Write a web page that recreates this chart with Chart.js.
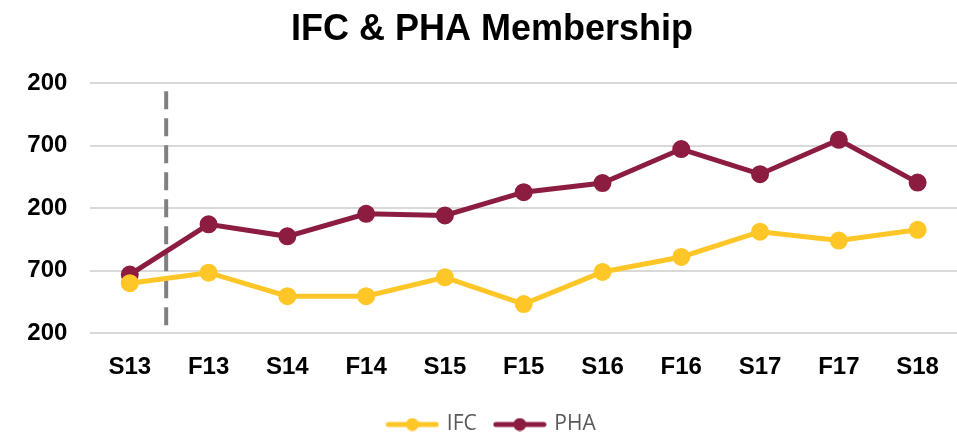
<!DOCTYPE html>
<html lang="en">
  <head>
    <meta charset="UTF-8" />
    <title>IFC & PHA Membership</title>
    <script src="https://cdn.jsdelivr.net/npm/chart.js"></script>
    <style>
      html, body { margin: 0; padding: 0; background: #fff; }
      #wrap { width: 957px; height: 435px; }
    </style>
  </head>
  <body>
    <div id="wrap"><canvas id="membership"></canvas></div>
    <script>
      const terms = ["S13", "F13", "S14", "F14", "S15", "F15", "S16", "F16", "S17", "F17", "S18"];
      const ifcMembers = [1600, 1684, 1496, 1496, 1647, 1433, 1690, 1810, 2012, 1941, 2027];
      const phaMembers = [1669, 2071, 1975, 2155, 2142, 2328, 2401, 2673, 2472, 2747, 2405];
      const yTicks = [1200, 1700, 2200, 2700, 3200];

      const GOLD = "#FFC627";
      const MAROON = "#8C1D40";

      // legend swatch: a short line with a dot in the middle
      function legendSwatch(color) {
        const c = document.createElement("canvas");
        c.width = 54;
        c.height = 14;
        const g = c.getContext("2d");
        g.strokeStyle = color;
        g.lineWidth = 5;
        g.lineCap = "round";
        g.beginPath();
        g.moveTo(3, 7);
        g.lineTo(51, 7);
        g.stroke();
        g.fillStyle = color;
        g.beginPath();
        g.arc(27, 7, 6.5, 0, Math.PI * 2);
        g.fill();
        return c;
      }

      // dashed divider between the first two terms
      const divider = {
        id: "divider",
        beforeDatasetsDraw(chart) {
          const x = chart.scales.x;
          const y = chart.scales.y;
          const px = (x.getPixelForValue(0) + x.getPixelForValue(1)) / 2 - 3;
          const ctx = chart.ctx;
          ctx.save();
          ctx.strokeStyle = "#808080";
          ctx.lineWidth = 4;
          ctx.setLineDash([18, 9]);
          ctx.beginPath();
          ctx.moveTo(px, y.getPixelForValue(3135));
          ctx.lineTo(px, y.getPixelForValue(1200));
          ctx.stroke();
          ctx.restore();
        },
      };

      const common = {
        borderWidth: 5,
        pointRadius: 6.5,
        pointHoverRadius: 6.5,
        pointStyle: "circle",
        tension: 0,
        clip: false,
      };

      new Chart(document.getElementById("membership"), {
        type: "line",
        data: {
          labels: terms,
          datasets: [
            {
              label: "IFC",
              data: ifcMembers,
              borderColor: GOLD,
              backgroundColor: GOLD,
              ...common,
            },
            {
              label: "PHA",
              data: phaMembers,
              borderColor: MAROON,
              backgroundColor: MAROON,
              ...common,
            },
          ],
        },
        options: {
          responsive: true,
          maintainAspectRatio: false,
          animation: false,
          layout: { autoPadding: false, padding: { left: 27, right: 0, top: 0, bottom: -10 } },
          plugins: {
            title: {
              display: true,
              text: "IFC & PHA Membership",
              color: "#000",
              font: { family: "Liberation Sans", size: 36, weight: "bold" },
              padding: { top: 8, bottom: 32 },
            },
            legend: {
              position: "bottom",
              labels: {
                usePointStyle: true,
                pointStyleWidth: 48,
                generateLabels(chart) {
                  return chart.data.datasets.map((ds, i) => ({
                    text: ds.label,
                    pointStyle: legendSwatch(ds.borderColor),
                    fillStyle: ds.borderColor,
                    strokeStyle: ds.borderColor,
                    lineWidth: 0,
                    fontColor: "#595959",
                    datasetIndex: i,
                    hidden: false,
                  }));
                },
                color: "#595959",
                font: { family: "Open Sans", size: 21 },
                padding: 19,
              },
            },
            tooltip: { enabled: false },
          },
          scales: {
            x: {
              offset: true,
              grid: { display: false },
              border: { display: false },
              ticks: {
                color: "#000",
                font: { family: "Liberation Sans", size: 24, weight: "bold", lineHeight: 2.2 },
                padding: 0,
              },
              afterFit(axis) {
                axis.height += 1;
              },
            },
            y: {
              min: yTicks[0],
              max: yTicks[yTicks.length - 1],
              afterBuildTicks(axis) {
                axis.ticks = yTicks.map((v) => ({ value: v }));
              },
              afterFit(axis) {
                axis.width -= 36;
              },
              grid: { color: "#D9D9D9", lineWidth: 2, drawTicks: false },
              border: { display: false },
              ticks: {
                color: "#000",
                font: { family: "Liberation Sans", size: 24, weight: "bold" },
                padding: 23,
                callback: (v) => String(v),
              },
            },
          },
        },
        plugins: [divider],
      });
    </script>
  </body>
</html>
